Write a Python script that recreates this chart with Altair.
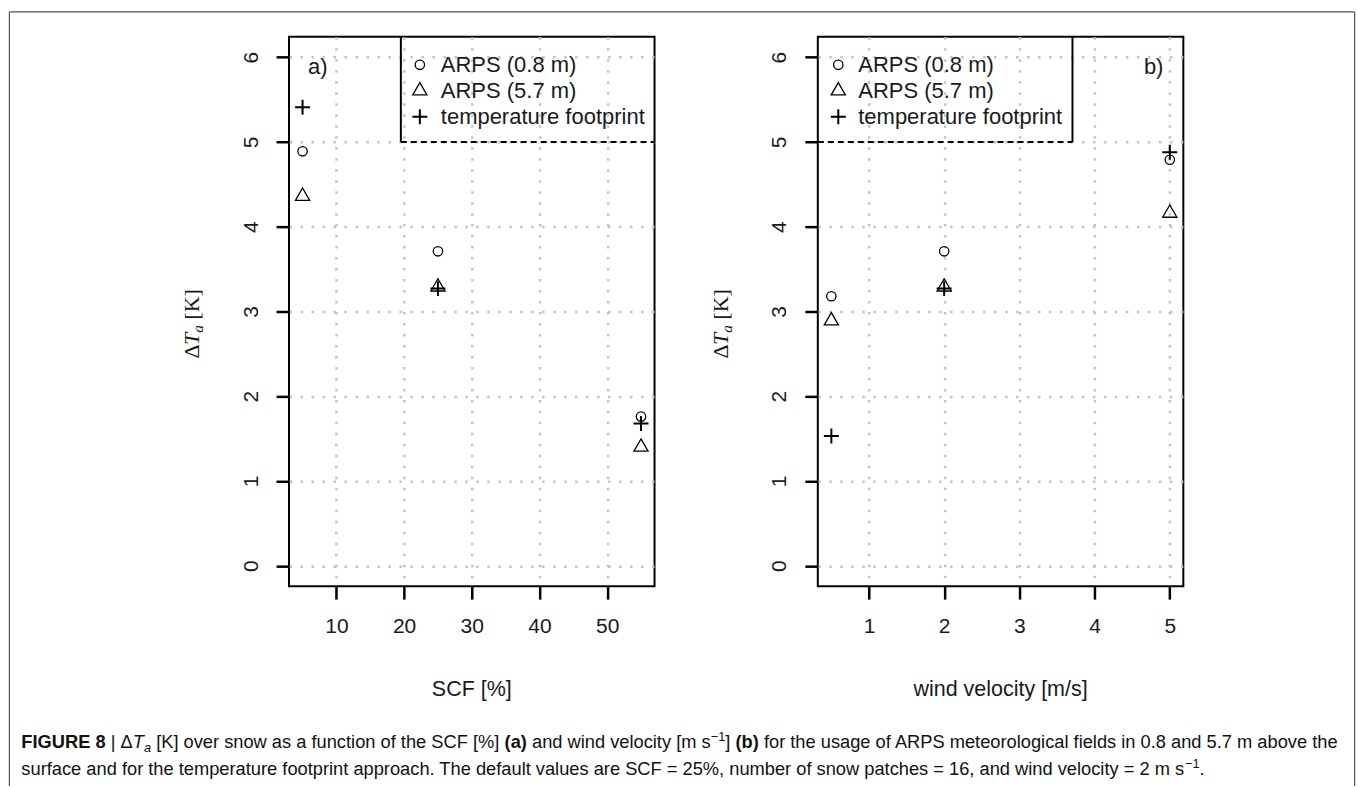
import altair as alt
import pandas as pd

# ---------------- data ----------------
SCF = [5, 25, 55]
SCF_ARPS_08 = [4.89, 3.71, 1.76]
SCF_ARPS_57 = [4.36, 3.29, 1.40]
SCF_FOOTPRINT = [5.41, 3.27, 1.68]

WIND = [0.5, 2, 5]
WIND_ARPS_08 = [3.18, 3.71, 4.79]
WIND_ARPS_57 = [2.89, 3.29, 4.16]
WIND_FOOTPRINT = [1.53, 3.27, 4.88]

SCF_TICKS = [10, 20, 30, 40, 50]
WIND_TICKS = [1, 2, 3, 4, 5]
DT_TICKS = [0, 1, 2, 3, 4, 5, 6]

SERIES = ["ARPS (0.8 m)", "ARPS (5.7 m)", "temperature footprint"]

SCF_DOMAIN = [3, 57]
WIND_DOMAIN = [0.32, 5.18]
DT_DOMAIN = [-0.24, 6.24]

CAPTION = [
    [("FIGURE 8", "bold"), (" | ", "reg"), ("Δ", "reg"), ("T", "ital"), ("a", "sub"),
     (" [K] over snow as a function of the SCF [%] ", "reg"), ("(a)", "bold"),
     (" and wind velocity [m s", "reg"), ("−1", "sup"), ("] ", "reg"), ("(b)", "bold"),
     (" for the usage of ARPS meteorological fields in 0.8 and 5.7 m above the", "reg")],
    [("surface and for the temperature footprint approach. The default values are SCF = 25%, "
      "number of snow patches = 16, and wind velocity = 2 m s", "reg"), ("−1", "sup"), (".", "reg")],
]

# ---------------- layout / style ----------------
W, H = 366, 550
GAP = 163.5
SANS = "Liberation Sans"
SERIF = "Liberation Serif"
INK = "#1a1a1a"

# open symbols in the manner of R's pch 1, 2 and 3
SYMBOLS = [
    dict(shape="circle", size=88, strokeWidth=1.3),
    dict(shape="M0,-1L0.866,0.5L-0.866,0.5Z", size=269, strokeWidth=1.3),
    dict(shape="M-1,0H1M0,-1V1", size=225, strokeWidth=2),
]

ONE = alt.Data(values=[{}])

# advance widths (1/1000 em) used to lay out mixed-style text runs
ARIAL = {" ": 278, "|": 260, "[": 278, "]": 278, "%": 889, "(": 333, ")": 333, ".": 278,
         ",": 278, "=": 584, "/": 278, "−": 584, "Δ": 668,
         "A": 667, "C": 722, "E": 667, "F": 611, "G": 778, "I": 278, "K": 667, "P": 667,
         "R": 722, "S": 667, "T": 611, "U": 722,
         "a": 556, "b": 556, "c": 500, "d": 556, "e": 556, "f": 278, "g": 556, "h": 556,
         "i": 222, "j": 222, "k": 500, "l": 222, "m": 833, "n": 556, "o": 556, "p": 556,
         "q": 556, "r": 333, "s": 500, "t": 278, "u": 556, "v": 500, "w": 722, "x": 500,
         "y": 500, "z": 500}
for d in "0123456789":
    ARIAL[d] = 556
ARIAL_BOLD = dict(ARIAL)
ARIAL_BOLD.update({"b": 611, "a": 556, "(": 333, ")": 333})
TIMES = {"Δ": 612, "T": 556, "a": 500, " ": 250, "[": 333, "K": 722, "]": 333}


def text_width(s, table, size):
    return sum(table.get(ch, 556) for ch in s) * size / 1000.0


def text(t, x, y, size, font=SANS, style="normal", weight="normal", align="left",
         baseline="alphabetic", angle=0, color=INK):
    return alt.Chart(ONE).mark_text(
        text=t, font=font, fontSize=size, fontStyle=style, fontWeight=weight,
        align=align, baseline=baseline, angle=angle, color=color,
    ).encode(x=alt.value(x), y=alt.value(y))


def rule(x, y, x2, y2, width=2, dash=None, color="black"):
    kw = dict(color=color, strokeWidth=width)
    if dash:
        kw["strokeDash"] = dash
    return alt.Chart(ONE).mark_rule(**kw).encode(
        x=alt.value(x), y=alt.value(y), x2=alt.value(x2), y2=alt.value(y2))


def symbol(sym, x, y):
    return alt.Chart(ONE).mark_point(filled=False, color="black", opacity=1, **sym).encode(
        x=alt.value(x), y=alt.value(y))


def dt_title(xb, yb):
    """Vertical axis title  ΔT_a [K], read bottom to top."""
    fs = 22
    marks = []
    y = yb
    for s, style, f, shift in [("Δ", "normal", fs, 0), ("T", "italic", fs, 0),
                               ("a", "italic", fs * 0.7, 4), (" [K]", "normal", fs, 0)]:
        core = s.lstrip(" ")
        lead = text_width(s[: len(s) - len(core)], TIMES, f)
        marks.append(text(core, xb + shift, y - lead, f, font=SERIF, style=style, angle=270))
        y -= text_width(s, TIMES, f)
    return marks


def caption_marks(x0, baselines, size):
    marks = []
    for runs, base in zip(CAPTION, baselines):
        cx = x0
        for s, kind in runs:
            fs = size * 0.7 if kind in ("sub", "sup") else size
            table = ARIAL_BOLD if kind == "bold" else ARIAL
            core = s.strip(" ")
            lead = text_width(s[: len(s) - len(s.lstrip(" "))], table, fs)
            dy = {"sub": 0.22 * size, "sup": -0.42 * size}.get(kind, 0)
            if core:
                marks.append(text(core, cx + lead, base + dy, fs,
                                  style="italic" if kind in ("ital", "sub") else "normal",
                                  weight="bold" if kind == "bold" else "normal",
                                  color="#111111"))
            cx += text_width(s, table, fs)
    return marks


def panel(xs, ys_list, ticks, domain, xtitle, tag, tag_x, legend_at_right):
    xenc = alt.X("x:Q", scale=alt.Scale(domain=domain, nice=False, zero=False),
                 axis=alt.Axis(values=ticks, title=None, labelPadding=16))
    yenc = alt.Y("y:Q", scale=alt.Scale(domain=DT_DOMAIN, nice=False, zero=False),
                 axis=alt.Axis(values=DT_TICKS, title=None, labelAngle=270, labelAlign="center",
                               labelBaseline="alphabetic", labelPadding=19))
    layers = []
    for ys, sym in zip(ys_list, SYMBOLS):
        df = pd.DataFrame({"x": xs, "y": ys})
        layers.append(alt.Chart(df).mark_point(filled=False, color="black", opacity=1, **sym)
                      .encode(x=xenc, y=yenc))

    # legend box edges and entries
    y5 = H * (DT_DOMAIN[1] - 5) / (DT_DOMAIN[1] - DT_DOMAIN[0])
    if legend_at_right:
        bx = 112
        layers.append(rule(bx, 0, bx, y5))
        layers.append(rule(bx, y5, W, y5, dash=[6, 4]))
        sx, tx = 131, 152
    else:
        bx = 255
        layers.append(rule(bx, 0, bx, y5))
        layers.append(rule(0, y5, bx, y5, dash=[6, 4]))
        sx, tx = 20.5, 40.5
    for i, (name, sym) in enumerate(zip(SERIES, SYMBOLS)):
        ry = 28 + 26 * i
        layers.append(symbol(sym, sx, ry))
        layers.append(text(name, tx, ry, 22, baseline="middle"))

    layers.append(text(tag, tag_x, 30, 22, baseline="middle"))
    layers.append(text(xtitle, W / 2, 660, 21.5, align="center"))
    layers.extend(dt_title(-90, 322))
    return layers


left_layers = panel(SCF, [SCF_ARPS_08, SCF_ARPS_57, SCF_FOOTPRINT], SCF_TICKS, SCF_DOMAIN,
                    "SCF [%]", "a)", 19, True)
right_layers = panel(WIND, [WIND_ARPS_08, WIND_ARPS_57, WIND_FOOTPRINT], WIND_TICKS, WIND_DOMAIN,
                     "wind velocity [m/s]", "b)", 326.5, False)

# figure frame (open at the bottom) and caption, placed relative to the left panel
frame = [
    rule(-280, -25, 1067, -25, width=1.2, color="#555555"),
    rule(-280, -25, -280, 750, width=1.2, color="#555555"),
    rule(1067, -25, 1067, 750, width=1.2, color="#555555"),
]
left_layers = frame + caption_marks(-268, [712.5, 739.5], 18.3) + left_layers

left = alt.layer(*left_layers).properties(width=W, height=H)
right = alt.layer(*right_layers).properties(width=W, height=H)

chart = (
    alt.hconcat(left, right, spacing=GAP, bounds="flush")
    .properties(padding={"left": 7.4, "top": 9.4, "right": 1.4, "bottom": 0}, background="white")
    .configure_view(stroke="black", strokeWidth=2)
    .configure_axis(
        domain=False, grid=True, gridColor="#c4c4c4", gridDash=[2.5, 8.5], gridWidth=2.5,
        tickColor="black", tickWidth=2.5, tickSize=13,
        labelFont=SANS, labelFontSize=21, labelColor=INK,
        labelFlush=False, labelOverlap=False, labelBound=False,
    )
)

chart.save("out.html", embed_options={"renderer": "svg", "actions": False})
